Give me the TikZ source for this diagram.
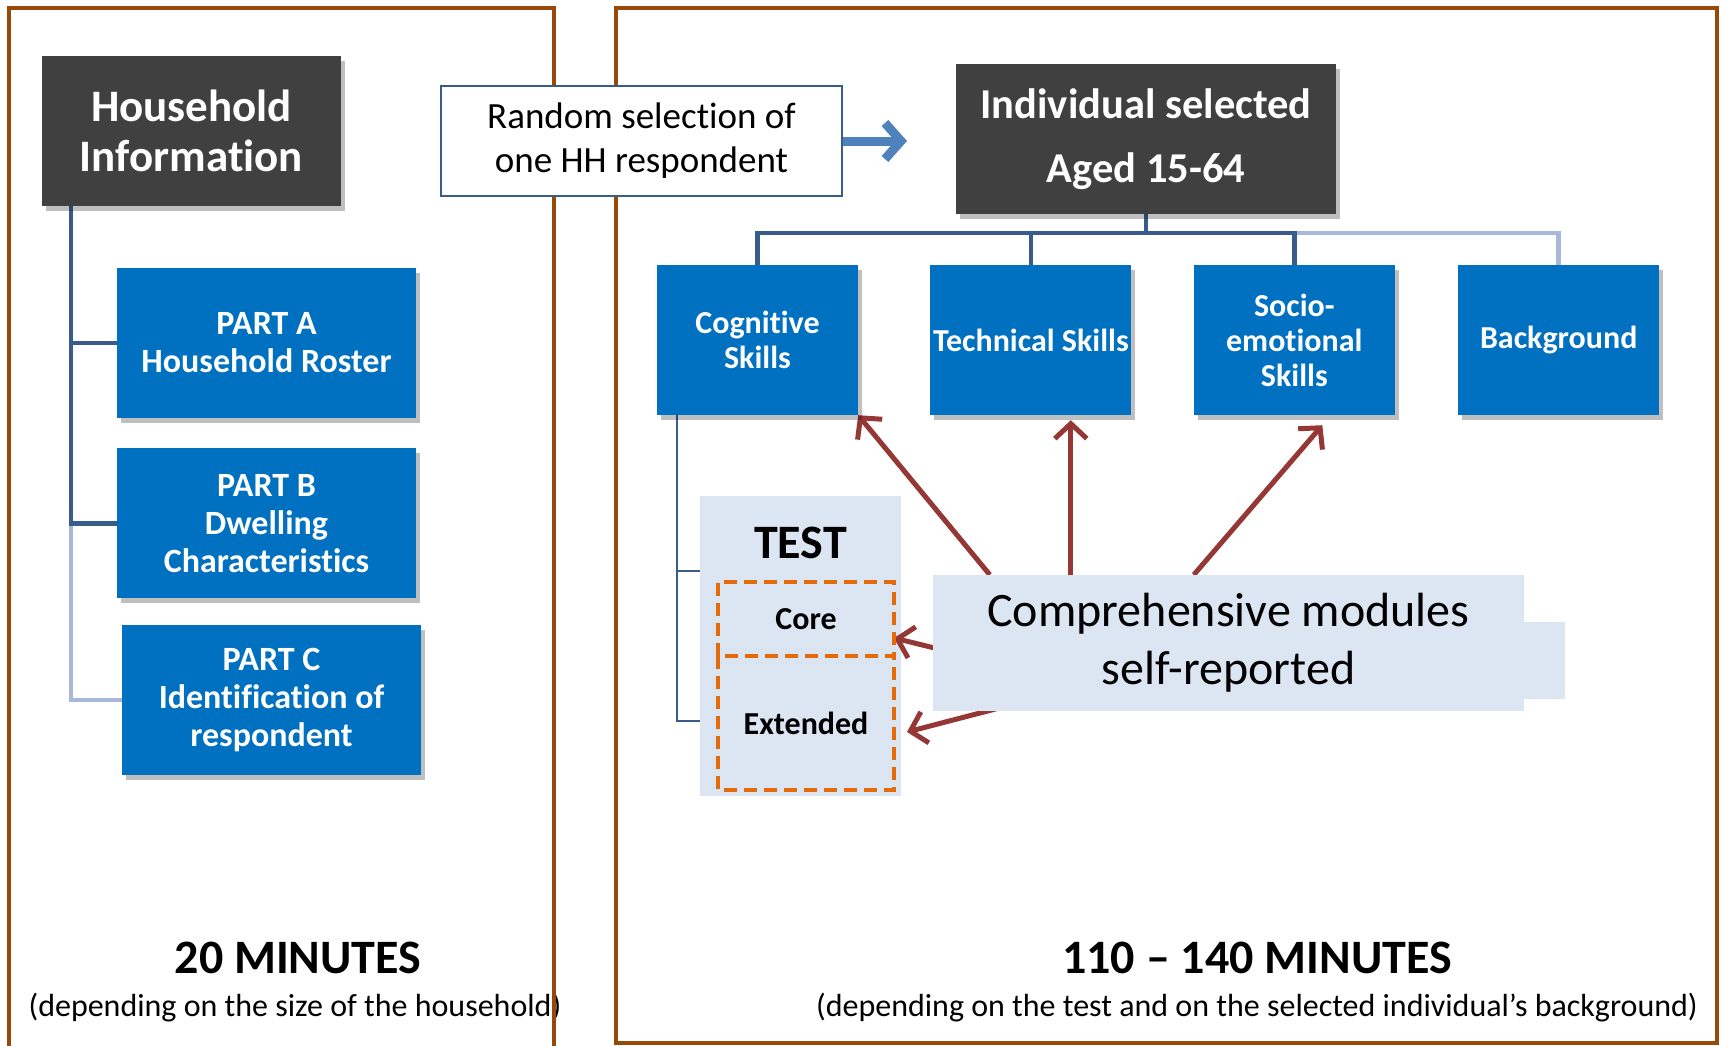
\documentclass[tikz,border=0pt]{standalone}
\usepackage{fontspec}
\setmainfont{Carlito}[Ligatures=NoCommon]
\usetikzlibrary{
  positioning,
  shadows,
  arrows.meta,
  backgrounds
}
\definecolor{framebrown}{HTML}{984807}
\definecolor{hhgray}{HTML}{404040}
\definecolor{modblue}{HTML}{0070C0}
\definecolor{linkdark}{HTML}{385D8A}
\definecolor{linklight}{HTML}{A7B8DA}
\definecolor{testfill}{HTML}{DCE6F2}
\definecolor{arrred}{HTML}{953735}
\definecolor{dashorange}{HTML}{E36C09}
\definecolor{selblue}{HTML}{4F81BD}
\newcommand{\fsz}[2]{\fontsize{#1}{#2}\selectfont}

\begin{document}
\begin{tikzpicture}[x=1pt, y=-1pt,
  head/.style={rectangle, fill=hhgray, text=white, align=center, inner sep=0pt,
    font=\bfseries\fsz{45}{50},
    drop shadow={shadow xshift=4pt, shadow yshift=-5pt, opacity=.25, fill=black}},
  module/.style={rectangle, fill=modblue, text=white, align=center, inner sep=0pt,
    minimum width=299pt, minimum height=150pt, font=\bfseries\fsz{34}{38},
    drop shadow={shadow xshift=4pt, shadow yshift=-5pt, opacity=.25, fill=black}},
  skill/.style={module, minimum width=201pt, font=\bfseries\fsz{32}{35}},
  link/.style={draw=linkdark, line width=4.5pt},
  faint/.style={draw=linklight, line width=4.5pt},
  sublink/.style={draw=linkdark, line width=2.5pt},
  pointer/.style={draw=arrred, line width=5pt, -{Straight Barb[length=15pt,width=32pt]}},
  selarrow/.style={draw=selblue, line width=9pt, -{Straight Barb[length=16pt,width=36pt]}},
  dashes/.style={draw=dashorange, line width=4pt, dash pattern=on 13pt off 7pt},
  part/.style={minimum width=176pt, inner sep=0pt, outer sep=0pt, font=\bfseries\fsz{32}{36}},
  frame/.style={draw=framebrown, line width=4pt},
  duration/.style={font=\bfseries\fsz{48}{55}},
  remark/.style={font=\fsz{32}{37}}
]
\useasboundingbox (0,0) rectangle (1729,1045);

% durations
\node[duration] (min20) at (298,958) {20 MINUTES};
\node[remark] (sub20) at (295,1008) {(depending on the size of the household)};
\node[duration] (min110) at (1257,958) {110 – 140 MINUTES};
\node[remark] (sub110) at (1257,1008) {(depending on the test and on the selected individual’s background)};

% frames
\draw[frame] (9,1050) -- (9,8) -- (554,8) -- (554,1050);
\draw[frame] (616,1043) -- (616,8) -- (1717,8) -- (1717,1043) -- cycle;

% household part
\node[head, minimum width=299pt, minimum height=150pt] (hh) at (191.5,131) {Household\\Information};
\node[module] (partA) at (266.5,343) {PART A\\Household Roster};
\node[module, below=30pt of partA] (partB) {PART B\\Dwelling\\Characteristics};
\node[module, below=26pt of partB, xshift=5pt] (partC) {PART C\\Identification of\\respondent};

\coordinate (hhstem) at ([xshift=29pt]hh.south west);
\begin{pgfonlayer}{background}
\draw[faint] (hhstem |- partB.west) |- (partC.west);
\draw[link] (hhstem) |- (partA.west);
\draw[link] (hhstem) |- (partB.west);
\end{pgfonlayer}

% selection
\node[draw=linkdark, line width=2pt, fill=white, minimum width=401pt, minimum height=110pt,
  align=center, font=\fsz{37}{44}] (rand) at (641.5,141) {Random selection of\\one HH respondent};
\coordinate (randtip) at ([xshift=64pt]rand.east);
\draw[selarrow] (rand.east) -- (randtip);

% individual part
\node[head, minimum width=380pt, minimum height=150pt, font=\bfseries\fsz{42.5}{64}] (indiv) at (1146,139) {Individual selected\\Aged 15-64};
\node[skill] (cog) at (757.5,340) {Cognitive\\Skills};
\node[skill, right=72pt of cog] (tech) {Technical Skills};
\node[skill, right=62pt of tech] (socio) {Socio-\\emotional\\Skills};
\node[skill, right=63pt of socio] (bground) {Background};

\begin{pgfonlayer}{background}
\draw[link] (indiv.south) -- ++(0,19) coordinate (fork);
\draw[faint] (socio.north |- fork) -| (bground.north);
\draw[link] (cog.north) |- (fork);
\draw[link] (fork) -| (socio.north);
\draw[link] (tech.north) -- (tech.north |- fork);
\node[fill=testfill, minimum width=201pt, minimum height=300pt, inner sep=0pt] (test) at (800.5,646) {};
\end{pgfonlayer}

% test
\node[font=\bfseries\fsz{48}{54}] (testlbl) at ([yshift=-47pt]test.north) {TEST};
\node[part, minimum height=74pt] (core) at (806,619) {Core};
\node[part, minimum height=134pt, below=0pt of core] (ext) {Extended};
\draw[dashes] (core.south west) rectangle (core.north east);
\draw[dashes] (ext.north west) -- (ext.south west) -- (ext.south east) -- (ext.north east);

\coordinate (cogstem) at ([xshift=20pt]cog.south west);
\coordinate (tup) at ([yshift=75pt]test.west);
\coordinate (tdown) at ([yshift=-75pt]test.west);
\begin{pgfonlayer}{background}
\draw[sublink] (cogstem) |- (tdown);
\draw[sublink] (cogstem |- tup) -- (tup);
\end{pgfonlayer}

% comprehensive modules
\node[fill=testfill, minimum width=591pt, minimum height=136pt, inner sep=0pt, align=center,
  font=\fsz{48}{58}] (comp) at (1228.5,643) {Comprehensive modules\\self-reported};
\fill[testfill] ([yshift=-47pt]comp.north east) rectangle ([xshift=41pt,yshift=12pt]comp.south east);

\coordinate (ptech) at ([xshift=138pt]comp.north west);
\begin{pgfonlayer}{background}
\draw[pointer] ([xshift=57pt]comp.north west) -- (cog.south east);
\draw[pointer] (ptech) -- ([yshift=-5pt]ptech |- tech.south);
\draw[pointer] ([xshift=261pt]comp.north west) -- ([xshift=28pt,yshift=-10pt]socio.south);
\draw[pointer] ([xshift=30pt,yshift=-12pt]comp.west) -- ([yshift=-19pt]core.east);
\draw[pointer] ([xshift=127pt,yshift=19pt]comp.south west) -- ([xshift=13pt,yshift=-9pt]ext.east);
\end{pgfonlayer}
\end{tikzpicture}
\end{document}
